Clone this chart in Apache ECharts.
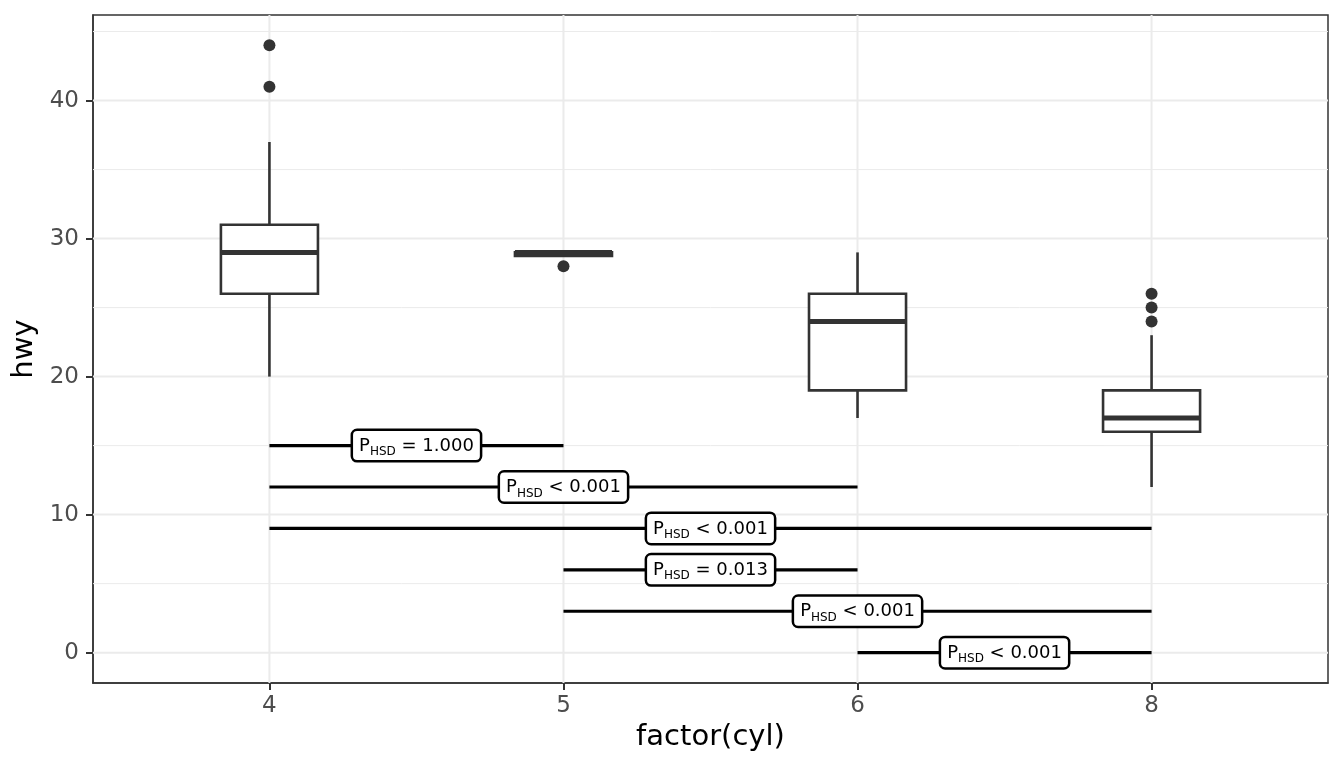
<!DOCTYPE html>
<html>
<head>
<meta charset="utf-8">
<script src="https://cdn.jsdelivr.net/npm/echarts@6/dist/echarts.min.js"></script>
<style>
	html, body { margin: 0; padding: 0; background: #ffffff; }
	#chart { width: 1344px; height: 768px; }
</style>
</head>
<body>
<div id="chart"></div>
<script>
//Chart data
const cyl_labels = ["4", "5", "6", "8"];
const cyl_positions = [1, 2, 3, 4];

const hwy_lower = [20, 28.75, 17, 12];
const hwy_q1 = [26, 28.75, 19, 16];
const hwy_median = [29, 29, 24, 17];
const hwy_q3 = [31, 29, 26, 19];
const hwy_upper = [37, 29, 29, 23];

const outlier_group = [1, 1, 2, 4, 4, 4];
const outlier_hwy = [44, 41, 28, 26, 25, 24];

const bracket_from = [1, 1, 1, 2, 2, 3];
const bracket_to = [2, 3, 4, 3, 4, 4];
const bracket_hwy = [15, 12, 9, 6, 3, 0];
const bracket_labels = ["= 1.000", "< 0.001", "< 0.001", "= 0.013", "< 0.001", "< 0.001"];

const y_major_ticks = [0, 10, 20, 30, 40];
const y_minor_ticks = [5, 15, 25, 35, 45];

//Scale limits (ggplot expansion: 0.6 for discrete, 5% for continuous)
const x_min = 0.4;
const x_max = 4.6;
const y_min = -2.2;
const y_max = 46.2;

//Styling
const font_family = "DejaVu Sans";
const box_width = 0.33;
const dark = "#333333";
const grid_colour = "#EBEBEB";

let chart = echarts.init(document.getElementById("chart"), null, { renderer: "canvas" });

function lineBetween (start, end, style) {
	return {
		type: "line",
		shape: { x1: start[0], y1: start[1], x2: end[0], y2: end[1] },
		style: style
	};
}

let option = {
	animation: false,
	backgroundColor: "#ffffff",
	grid: {
		left: 93, right: 16, top: 15, bottom: 85,
		show: true,
		backgroundColor: "#ffffff",
		borderColor: dark,
		borderWidth: 1.5
	},
	xAxis: {
		type: "value",
		min: x_min,
		max: x_max,
		name: "factor(cyl)",
		nameLocation: "middle",
		nameGap: 40,
		nameTextStyle: { fontFamily: font_family, fontSize: 29, color: "#000000" },
		axisLine: { show: true, onZero: false, lineStyle: { color: dark, width: 1.5 } },
		splitLine: { show: false },
		axisTick: {
			show: true,
			inside: false,
			customValues: cyl_positions,
			length: 7,
			lineStyle: { color: dark, width: 2 }
		},
		axisLabel: {
			customValues: cyl_positions,
			formatter: (value) => cyl_labels[cyl_positions.indexOf(value)],
			margin: 12,
			fontFamily: font_family,
			fontSize: 23,
			color: "#4D4D4D"
		}
	},
	yAxis: {
		type: "value",
		min: y_min,
		max: y_max,
		name: "hwy",
		nameLocation: "middle",
		nameGap: 45,
		nameTextStyle: { fontFamily: font_family, fontSize: 29, color: "#000000" },
		axisLine: { show: true, onZero: false, lineStyle: { color: dark, width: 1.5 } },
		splitLine: { show: false },
		axisTick: {
			show: true,
			inside: false,
			customValues: y_major_ticks,
			length: 7,
			lineStyle: { color: dark, width: 2 }
		},
		axisLabel: {
			customValues: y_major_ticks,
			margin: 14,
			fontFamily: font_family,
			fontSize: 23,
			color: "#4D4D4D"
		}
	},
	series: [
		//Minor horizontal gridlines
		{
			type: "custom",
			z: 1,
			silent: true,
			clip: true,
			data: y_minor_ticks.map((value) => [x_min, value]),
			renderItem: (params, api) => lineBetween(
				api.coord([x_min, api.value(1)]), api.coord([x_max, api.value(1)]),
				{ stroke: grid_colour, lineWidth: 1 }
			)
		},
		//Major horizontal gridlines
		{
			type: "custom",
			z: 1,
			silent: true,
			clip: true,
			data: y_major_ticks.map((value) => [x_min, value]),
			renderItem: (params, api) => lineBetween(
				api.coord([x_min, api.value(1)]), api.coord([x_max, api.value(1)]),
				{ stroke: grid_colour, lineWidth: 2 }
			)
		},
		//Major vertical gridlines
		{
			type: "custom",
			z: 1,
			silent: true,
			clip: true,
			data: cyl_positions.map((value) => [value, y_min]),
			renderItem: (params, api) => lineBetween(
				api.coord([api.value(0), y_min]), api.coord([api.value(0), y_max]),
				{ stroke: grid_colour, lineWidth: 2 }
			)
		},
		//Boxplots
		{
			type: "custom",
			z: 2,
			encode: { x: 0, y: [1, 2, 3, 4, 5] },
			data: cyl_positions.map((pos, i) => [pos, hwy_lower[i], hwy_q1[i], hwy_median[i], hwy_q3[i], hwy_upper[i]]),
			renderItem: (params, api) => {
				let x = api.value(0);
				let top_left = api.coord([x - box_width/2, api.value(4)]);
				let bottom_right = api.coord([x + box_width/2, api.value(2)]);
				let median_left = api.coord([x - box_width/2, api.value(3)]);
				let median_right = api.coord([x + box_width/2, api.value(3)]);
				let stroke_style = { stroke: dark, lineWidth: 2.6 };
				
				return {
					type: "group",
					children: [
						lineBetween(api.coord([x, api.value(5)]), api.coord([x, api.value(4)]), stroke_style),
						lineBetween(api.coord([x, api.value(2)]), api.coord([x, api.value(1)]), stroke_style),
						{
							type: "rect",
							shape: {
								x: top_left[0], y: top_left[1],
								width: bottom_right[0] - top_left[0],
								height: bottom_right[1] - top_left[1]
							},
							style: { fill: "#ffffff", stroke: dark, lineWidth: 2.6 }
						},
						lineBetween(median_left, median_right, { stroke: dark, lineWidth: 5 })
					]
				};
			}
		},
		//Outliers
		{
			type: "scatter",
			z: 3,
			symbol: "circle",
			symbolSize: 12,
			itemStyle: { color: dark, opacity: 1 },
			data: outlier_group.map((pos, i) => [pos, outlier_hwy[i]])
		},
		//Tukey HSD brackets
		{
			type: "custom",
			z: 4,
			encode: { x: [0, 1], y: 2 },
			data: bracket_from.map((from, i) => [from, bracket_to[i], bracket_hwy[i]]),
			renderItem: (params, api) => {
				let start = api.coord([api.value(0), api.value(2)]);
				let end = api.coord([api.value(1), api.value(2)]);
				
				return {
					type: "group",
					children: [
						lineBetween(start, end, { stroke: "#000000", lineWidth: 3.2 }),
						{
							type: "text",
							z2: 10,
							style: {
								x: (start[0] + end[0])/2,
								y: start[1],
								align: "center",
								verticalAlign: "middle",
								text: `{p|P}{s|HSD}{t| ${bracket_labels[params.dataIndex]}}`,
								rich: {
									p: { fontFamily: font_family, fontSize: 18, lineHeight: 24, color: "#000000" },
									s: { fontFamily: font_family, fontSize: 12, lineHeight: 12, verticalAlign: "bottom", color: "#000000" },
									t: { fontFamily: font_family, fontSize: 18, lineHeight: 24, color: "#000000" }
								},
								backgroundColor: "#ffffff",
								borderColor: "#000000",
								borderWidth: 2.5,
								borderRadius: 4,
								padding: [3, 6, 2, 6]
							}
						}
					]
				};
			}
		}
	]
};

chart.setOption(option);
</script>
</body>
</html>
